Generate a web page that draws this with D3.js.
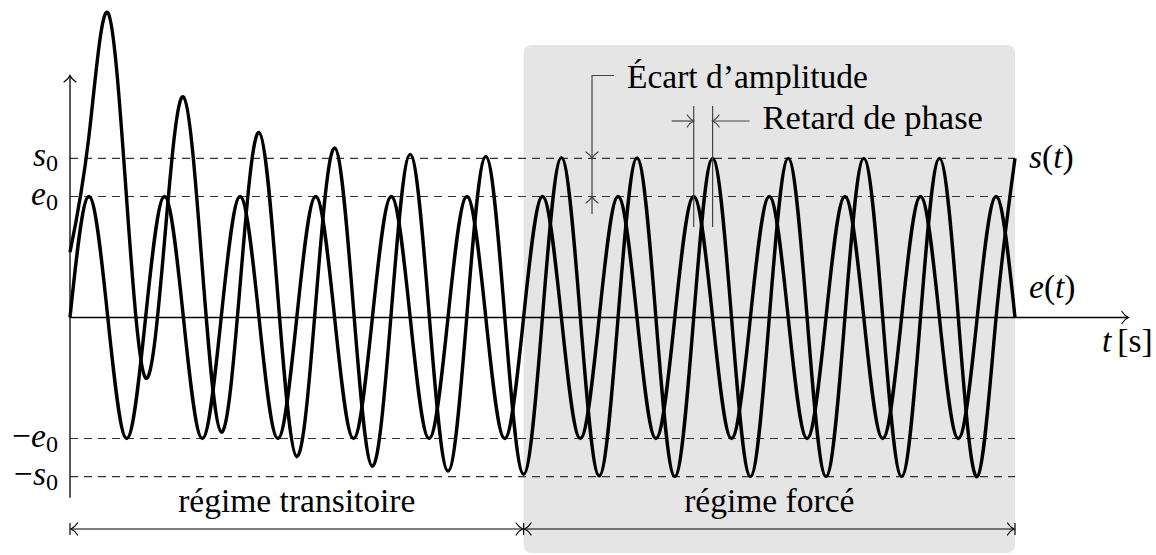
<!DOCTYPE html>
<html>
<head>
<meta charset="utf-8">
<script src="https://cdn.jsdelivr.net/npm/d3@7/dist/d3.min.js"></script>
<style>
html,body{margin:0;padding:0;background:#fff;}
svg{display:block;}
text{font-family:"Liberation Serif","Times New Roman",serif;fill:#000;}
</style>
</head>
<body>
<svg id="chart" width="1156" height="555"></svg>
<script>
// ---- data (time in periods, amplitudes in units of e0) ----
const times = [0,0.25,0.5,0.75,1,1.25,1.5,1.75,2,2.25,2.5,2.75,3,3.25,3.5,3.75,4,4.25,4.5,4.75,5,5.25,5.5,5.75,6,6.25,6.5,6.75,7,7.25,7.5,7.75,8,8.25,8.5,8.75,9,9.25,9.5,9.75,10,10.25,10.5,10.75,11,11.25,11.5,11.75,12,12.25,12.5];
// input e(t), in units of e0
const eValues = [0,1,0,-1,0,1,0,-1,0,1,0,-1,0,1,0,-1,0,1,0,-1,0,1,0,-1,0,1,0,-1,0,1,0,-1,0,1,0,-1,0,1,0,-1,0,1,0,-1,0,1,0,-1,0,1,0];
// output s(t), in units of s0
const sValues = [0.41,1.137,1.916,0.738,-0.38,0.48,1.387,0.312,-0.72,0.203,1.163,0.132,-0.875,0.086,1.066,0.056,-0.935,0.036,1.025,0.023,-0.965,0.015,1.012,0.01,-0.985,0.006,1.005,0.004,-0.995,0.002,1.002,0,-1,0,1,0,-1,0,1,0,-1,0,1,0,-1,0,1,0,-1,0,1];
const e0 = 1;
const s0 = 1.315;
const levelNames = ["s","e","e","s"];
const levelSigns = ["","","−","−"];
const levelValues = [s0, e0, -e0, -s0];
const tStart = 0, tForced = 6, tEnd = 12.5, tAxisEnd = 14;
const yAxisMin = -1.49, yAxisMax = 2.0;
const ampLine = {t: 6.905, top: 2.0, bottom: 0.855, label: "Écart d’amplitude"};
const phase = {t1: 8.25, t2: 8.5, top: 1.748, bottom: 0.748, arrowY: 1.624, label: "Retard de phase"};
const regimeLabels = ["régime transitoire", "régime forcé"];

// ---- scales ----
const x = d3.scaleLinear().domain([0, 12.5]).range([70, 1015]);
const y = d3.scaleLinear().domain([0, 1]).range([317.5, 196.5]);

const svg = d3.select("#chart");
const FS = 33.5;

function arrowHead(g, px, py, angleDeg, color) {
  g.append("path")
    .attr("d", "M-6.5,-6 C-4.5,-3 -2,-0.8 0,0 C-2,0.8 -4.5,3 -6.5,6")
    .attr("transform", `translate(${px},${py}) rotate(${angleDeg})`)
    .attr("fill", "none").attr("stroke", color || "#000").attr("stroke-width", 1.2)
    .attr("stroke-linecap", "round");
}

// gray forced-regime panel
svg.append("rect")
  .attr("x", x(tForced)).attr("y", 45)
  .attr("width", x(tEnd) - x(tForced)).attr("height", 508)
  .attr("rx", 8).attr("fill", "#e5e5e5");

// dashed level lines
svg.append("g").selectAll("line").data(levelValues).join("line")
  .attr("x1", x(tStart)).attr("x2", x(tEnd))
  .attr("y1", d => y(d)).attr("y2", d => y(d))
  .attr("stroke", "#333").attr("stroke-width", 1.2)
  .attr("stroke-dasharray", "8,6");

// level labels
const lab = svg.append("g").selectAll("text").data(levelValues).join("text")
  .attr("x", 58).attr("y", d => y(d) + 8)
  .attr("text-anchor", "end").attr("font-size", FS);
lab.append("tspan").text((d, i) => levelSigns[i]);
lab.append("tspan").attr("font-style", "italic").text((d, i) => levelNames[i]);
lab.append("tspan").attr("font-size", FS * 0.72).attr("dy", 5).text("0");

// axes
const ax = svg.append("g");
ax.append("line").attr("x1", x(0)).attr("x2", x(tAxisEnd))
  .attr("y1", y(0)).attr("y2", y(0)).attr("stroke", "#000").attr("stroke-width", 1.3);
arrowHead(ax, x(tAxisEnd), y(0), 0);
ax.append("line").attr("x1", x(0)).attr("x2", x(0))
  .attr("y1", y(yAxisMin)).attr("y2", y(yAxisMax)).attr("stroke", "#000").attr("stroke-width", 1.3);
arrowHead(ax, x(0), y(yAxisMax), -90);

// curves
const line = d3.line().x(d => x(d[0])).y(d => y(d[1])).curve(d3.curveNatural);
const ePts = times.map((t, i) => [t, eValues[i] * e0]);
const sPts = times.map((t, i) => [t, sValues[i] * s0]);
[ePts, sPts].forEach(pts => {
  svg.append("path").attr("d", line(pts))
    .attr("fill", "none").attr("stroke", "#000").attr("stroke-width", 3.4)
    .attr("stroke-linejoin", "round");
});

// curve labels
function fnLabel(txt, px, py) {
  const t = svg.append("text").attr("x", px).attr("y", py).attr("font-size", FS);
  t.append("tspan").attr("font-style", "italic").text(txt);
  t.append("tspan").text("(");
  t.append("tspan").attr("font-style", "italic").text("t");
  t.append("tspan").text(")");
}
fnLabel("s", 1029, 168);
fnLabel("e", 1029, 298);
const tl = svg.append("text").attr("x", 1102).attr("y", 352).attr("font-size", FS);
tl.append("tspan").attr("font-style", "italic").text("t");
tl.append("tspan").attr("dx", 6).text("[s]");

// amplitude annotation
const an = svg.append("g");
const ac = "#444";
an.append("path")
  .attr("d", `M${x(ampLine.t) + 22},${y(ampLine.top)} H${x(ampLine.t)} V${y(ampLine.bottom)}`)
  .attr("fill", "none").attr("stroke", ac).attr("stroke-width", 1.2);
arrowHead(an, x(ampLine.t), y(s0), 90, ac);
arrowHead(an, x(ampLine.t), y(e0), -90, ac);
an.append("text").attr("x", x(ampLine.t) + 35).attr("y", y(ampLine.top) + 12)
  .attr("font-size", FS).text(ampLine.label);

// phase annotation
const ph = svg.append("g");
[phase.t1, phase.t2].forEach(t => {
  ph.append("line").attr("x1", x(t)).attr("x2", x(t))
    .attr("y1", y(phase.top)).attr("y2", y(phase.bottom))
    .attr("stroke", ac).attr("stroke-width", 1.2);
});
ph.append("line").attr("x1", x(phase.t1) - 22).attr("x2", x(phase.t1))
  .attr("y1", y(phase.arrowY)).attr("y2", y(phase.arrowY)).attr("stroke", ac).attr("stroke-width", 1.2);
arrowHead(ph, x(phase.t1), y(phase.arrowY), 0, ac);
ph.append("line").attr("x1", x(phase.t2)).attr("x2", x(phase.t2) + 37)
  .attr("y1", y(phase.arrowY)).attr("y2", y(phase.arrowY)).attr("stroke", ac).attr("stroke-width", 1.2);
arrowHead(ph, x(phase.t2), y(phase.arrowY), 180, ac);
ph.append("text").attr("x", x(phase.t2) + 50).attr("y", y(phase.arrowY) + 8)
  .attr("font-size", 34.5).text(phase.label);

// regime dimension arrows
const rg = svg.append("g");
const yDim = 529;
[[tStart, tForced], [tForced, tEnd]].forEach((seg, i) => {
  const a = x(seg[0]) + 1, b = x(seg[1]) - 1;
  rg.append("line").attr("x1", a).attr("x2", b).attr("y1", yDim).attr("y2", yDim)
    .attr("stroke", "#000").attr("stroke-width", 1.2);
  arrowHead(rg, a, yDim, 180);
  arrowHead(rg, b, yDim, 0);
  rg.append("text").attr("x", (x(seg[0]) + x(seg[1])) / 2).attr("y", 512)
    .attr("text-anchor", "middle").attr("font-size", FS).text(regimeLabels[i]);
});
[tStart, tForced, tEnd].forEach(t => {
  rg.append("line").attr("x1", x(t)).attr("x2", x(t)).attr("y1", yDim - 6).attr("y2", yDim + 6)
    .attr("stroke", "#000").attr("stroke-width", 1.2);
});
</script>
</body>
</html>
